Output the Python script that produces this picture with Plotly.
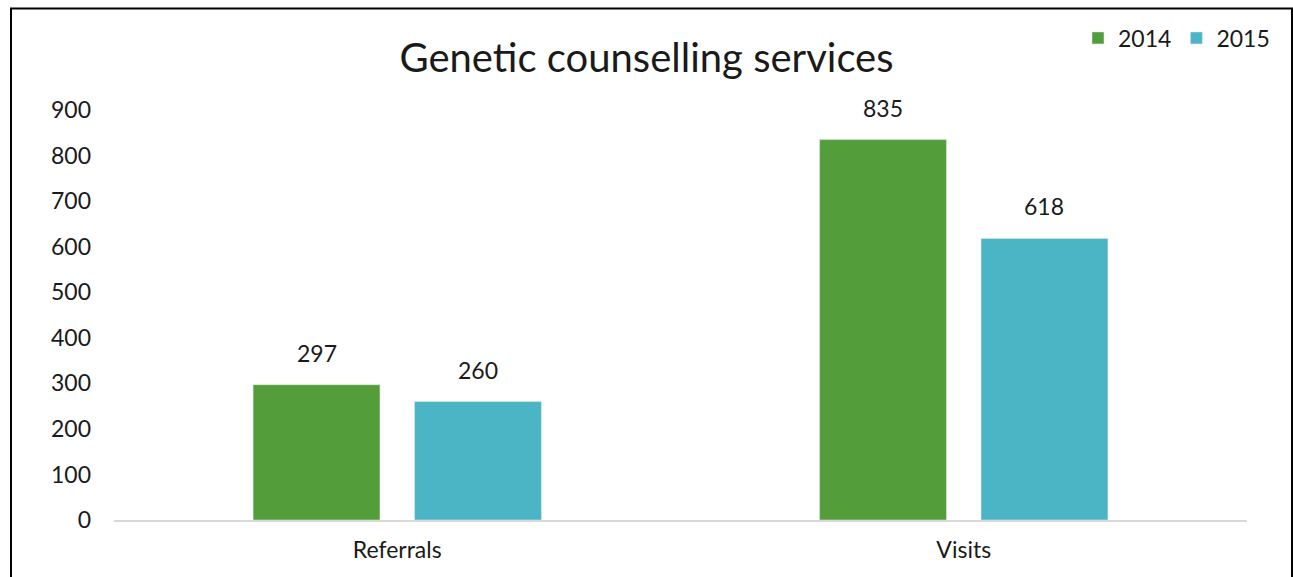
import plotly.graph_objects as go

categories = ["Referrals", "Visits"]
series_names = ["2014", "2015"]
values_2014 = [297, 835]
values_2015 = [260, 618]
y_ticks = [0, 100, 200, 300, 400, 500, 600, 700, 800, 900]

GREEN = "#539e3b"
CYAN = "#4bb5c6"
TEXT = "#1a1a1a"
FONT = "Lato"

# plot-area geometry (pixels)
PLOT_L, PLOT_R, PLOT_T, PLOT_B = 114, 1247, 110, 520
W, H = 1293, 577
BARGAP, BARGROUPGAP = 0.43, 0.214

fig = go.Figure()
for name, vals, color in [(series_names[0], values_2014, GREEN),
                          (series_names[1], values_2015, CYAN)]:
    fig.add_trace(go.Bar(name=name, x=categories, y=vals, marker_color=color))

# value labels above each bar
cat_px = (PLOT_R - PLOT_L) / len(categories)
slot_px = cat_px * (1 - BARGAP) / 2
for i, vals in enumerate([values_2014, values_2015]):
    shift = (i - 0.5) * slot_px
    for cat, v in zip(categories, vals):
        fig.add_annotation(x=cat, y=v, text=str(v), showarrow=False,
                           xshift=shift, yanchor="bottom", yshift=16,
                           font=dict(size=23, color=TEXT, family=FONT))

# outer frame around the whole chart
pw, ph = PLOT_R - PLOT_L, PLOT_B - PLOT_T
fig.add_shape(type="rect", xref="paper", yref="paper",
              x0=(11 - PLOT_L) / pw, x1=(1292 - PLOT_L) / pw,
              y0=(PLOT_B - 600) / ph, y1=(PLOT_B - 8.5) / ph,
              line=dict(color="black", width=2), fillcolor="rgba(0,0,0,0)")

fig.update_layout(
    width=W, height=H,
    margin=dict(l=PLOT_L, r=W - PLOT_R, t=PLOT_T, b=H - PLOT_B, autoexpand=False),
    paper_bgcolor="white", plot_bgcolor="white",
    font=dict(family=FONT, color=TEXT, size=23),
    title=dict(text="Genetic counselling services", x=0.5, xanchor="center",
               y=1 - 58 / H, yanchor="middle", yref="container",
               font=dict(size=40, color=TEXT, family=FONT)),
    barmode="group", bargap=BARGAP, bargroupgap=BARGROUPGAP,
    showlegend=True,
    legend=dict(orientation="h", x=(1275 - PLOT_L) / pw, xanchor="right",
                y=(PLOT_B - 38) / ph, yanchor="middle", itemwidth=30,
                font=dict(size=23, color=TEXT), bgcolor="rgba(0,0,0,0)",
                traceorder="normal"),
    xaxis=dict(showgrid=False, showline=True, linecolor="#d9d9d9", linewidth=2,
               ticks="", tickfont=dict(size=23, color=TEXT),
               ticklabelstandoff=8),
    yaxis=dict(range=[0, 900], tickvals=y_ticks, showgrid=False, zeroline=False,
               showline=False, ticks="", tickfont=dict(size=23, color=TEXT),
               ticklabelstandoff=22),
)

fig.write_html("out.html")
